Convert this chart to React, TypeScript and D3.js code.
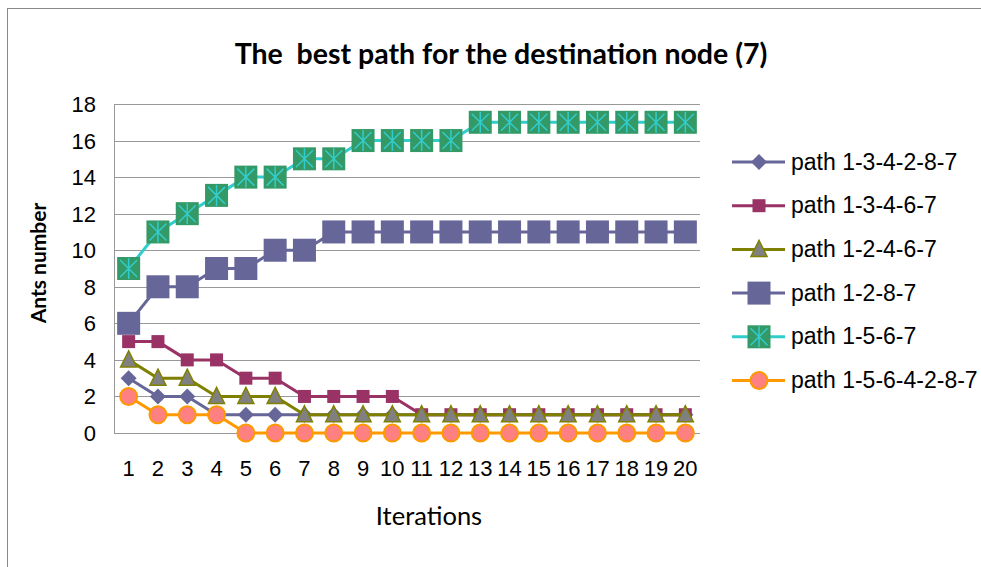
import React from "react";
import * as d3 from "d3";

const iterations = d3.range(1, 21).map(String);
const seriesNames = [
  "path 1-3-4-2-8-7",
  "path 1-3-4-6-7",
  "path 1-2-4-6-7",
  "path 1-2-8-7",
  "path 1-5-6-7",
  "path 1-5-6-4-2-8-7",
];
const p134287 = [3, 2, 2, 1, 1, 1, 1, 1, 1, 1, 1, 1, 1, 1, 1, 1, 1, 1, 1, 1];
const p13467 = [5, 5, 4, 4, 3, 3, 2, 2, 2, 2, 1, 1, 1, 1, 1, 1, 1, 1, 1, 1];
const p12467 = [4, 3, 3, 2, 2, 2, 1, 1, 1, 1, 1, 1, 1, 1, 1, 1, 1, 1, 1, 1];
const p1287 = [6, 8, 8, 9, 9, 10, 10, 11, 11, 11, 11, 11, 11, 11, 11, 11, 11, 11, 11, 11];
const p1567 = [9, 11, 12, 13, 14, 14, 15, 15, 16, 16, 16, 16, 17, 17, 17, 17, 17, 17, 17, 17];
const p1564287 = [2, 1, 1, 1, 0, 0, 0, 0, 0, 0, 0, 0, 0, 0, 0, 0, 0, 0, 0, 0];
const yTicks = [0, 2, 4, 6, 8, 10, 12, 14, 16, 18];

const seriesData = [p134287, p13467, p12467, p1287, p1567, p1564287];

type Style = { line: string; kind: string; fill: string; stroke: string; size: number };
const styles: Style[] = [
  { line: "#666699", kind: "diamond", fill: "#666699", stroke: "#666699", size: 16 },
  { line: "#993366", kind: "square", fill: "#993366", stroke: "#993366", size: 13 },
  { line: "#808000", kind: "triangle", fill: "#808080", stroke: "#808000", size: 16 },
  { line: "#666699", kind: "square", fill: "#666699", stroke: "#666699", size: 23 },
  { line: "#33CCCC", kind: "star", fill: "#339966", stroke: "#33CCCC", size: 23 },
  { line: "#FF9900", kind: "circle", fill: "#FF8080", stroke: "#FF9900", size: 17 },
];

function Marker({ s, x, y }: { s: Style; x: number; y: number }) {
  const h = s.size / 2;
  if (s.kind === "diamond") {
    return (
      <path
        d={`M${x},${y - h}L${x + h},${y}L${x},${y + h}L${x - h},${y}Z`}
        fill={s.fill}
      />
    );
  }
  if (s.kind === "square") {
    return <rect x={x - h} y={y - h} width={s.size} height={s.size} fill={s.fill} />;
  }
  if (s.kind === "triangle") {
    return (
      <path
        d={`M${x},${y - h - 1}L${x + h},${y + h - 1}L${x - h},${y + h - 1}Z`}
        fill={s.fill}
        stroke={s.stroke}
        strokeWidth={1.5}
      />
    );
  }
  if (s.kind === "star") {
    const k = h - 3;
    return (
      <g>
        <rect x={x - h} y={y - h} width={s.size} height={s.size} fill={s.fill} />
        <path
          d={`M${x - k},${y - k}L${x + k},${y + k}M${x + k},${y - k}L${x - k},${y + k}M${x},${y - h + 1}L${x},${y + h - 1}`}
          stroke={s.stroke}
          strokeWidth={1.5}
        />
      </g>
    );
  }
  return <circle cx={x} cy={y} r={h} fill={s.fill} stroke={s.stroke} strokeWidth={2} />;
}

export default function App() {
  const W = 981;
  const H = 567;
  const left = 114;
  const right = 700;
  const top = 104;
  const bottom = 433;

  const x = d3.scaleBand<string>().domain(iterations).range([left, right]);
  const y = d3.scaleLinear().domain([0, 18]).range([bottom, top]);
  const cx = (i: number) => (x(iterations[i]) as number) + x.bandwidth() / 2;
  const line = d3
    .line<number>()
    .x((_, i) => cx(i))
    .y((d) => y(d));

  const legendX = 732;
  const legendY0 = 162;
  const legendStep = 43.7;

  return (
    <svg
      width={W}
      height={H}
      style={{ position: "absolute", left: 0, top: 0, background: "#fff" }}
      fontFamily="'Liberation Sans', Arial, sans-serif"
    >
      <rect x={0} y={0} width={W} height={H} fill="#fff" />
      <rect x={7.5} y={8.5} width={1100} height={700} fill="none" stroke="#888" strokeWidth={1} />
      <text
        x={501}
        y={64}
        textAnchor="middle"
        fontFamily="Lato, sans-serif"
        fontWeight="bold"
        fontSize={28.5}
        style={{ whiteSpace: "pre" }}
      >
        {"The  best path for the destination node (7)"}
      </text>
      {yTicks.map((t) => (
        <g key={t}>
          <line
            x1={left}
            x2={right}
            y1={Math.round(y(t)) + 0.5}
            y2={Math.round(y(t)) + 0.5}
            stroke="#999"
            strokeWidth={1}
          />
          <text x={96} y={y(t) + 8} textAnchor="end" fontSize={22}>
            {t}
          </text>
        </g>
      ))}
      <line x1={left + 0.5} x2={left + 0.5} y1={top} y2={bottom} stroke="#999" />
      {iterations.map((c, i) => (
        <text key={c} x={cx(i)} y={476} textAnchor="middle" fontSize={22}>
          {c}
        </text>
      ))}
      <text
        transform={`translate(46,263) rotate(-90)`}
        textAnchor="middle"
        fontFamily="Lato, sans-serif"
        fontWeight="bold"
        fontSize={21}
      >
        Ants number
      </text>
      <text
        x={429}
        y={525}
        textAnchor="middle"
        fontFamily="Lato, sans-serif"
        fontSize={25.5}
      >
        Iterations
      </text>
      {seriesData.map((data, si) => {
        const s = styles[si];
        return (
          <g key={si}>
            <path d={line(data) || ""} fill="none" stroke={s.line} strokeWidth={3} />
            {data.map((v, i) => (
              <Marker key={i} s={s} x={cx(i)} y={y(v)} />
            ))}
          </g>
        );
      })}
      {seriesNames.map((n, si) => {
        const s = styles[si];
        const ly = legendY0 + si * legendStep;
        return (
          <g key={n}>
            <line x1={legendX} x2={legendX + 53} y1={ly} y2={ly} stroke={s.line} strokeWidth={3} />
            <Marker s={s} x={legendX + 27} y={ly} />
            <text x={legendX + 59} y={ly + 7.5} fontSize={23}>
              {n}
            </text>
          </g>
        );
      })}
    </svg>
  );
}
